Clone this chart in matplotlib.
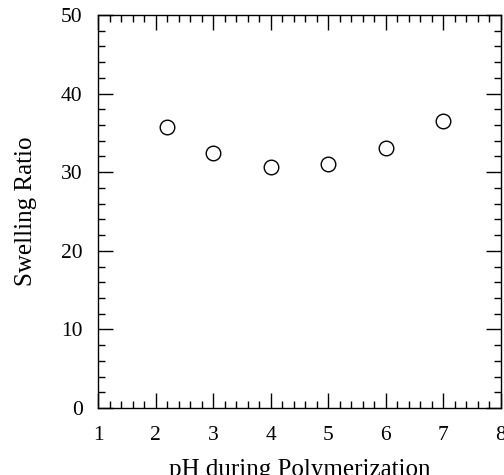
import matplotlib
matplotlib.use("Agg")
import matplotlib.pyplot as plt
from matplotlib.ticker import MultipleLocator

ph = [2.2, 3.0, 4.0, 5.0, 6.0, 7.0]
swelling = [35.7, 32.4, 30.6, 31.1, 33.1, 36.5]

plt.rcParams['font.family'] = ['Liberation Serif', 'DejaVu Serif']

fig = plt.figure(figsize=(5.04, 4.75), dpi=100)
ax = fig.add_axes([98/504, 1 - 408/475, (501-98)/504, (408-15)/475])

ax.plot(ph, swelling, linestyle='none', marker='o', markersize=10.5,
        markerfacecolor='white', markeredgecolor='black', markeredgewidth=1.0)

ax.set_xlim(1, 8)
ax.set_ylim(0, 50)
ax.xaxis.set_major_locator(MultipleLocator(1))
ax.xaxis.set_minor_locator(MultipleLocator(0.2))
ax.yaxis.set_major_locator(MultipleLocator(10))
ax.yaxis.set_minor_locator(MultipleLocator(2))
ax.tick_params(which='both', direction='in', top=True, right=True, width=1.0)
ax.tick_params(which='major', length=11, labelsize=15.5)
ax.tick_params(axis='x', which='major', pad=13)
ax.tick_params(axis='y', which='major', pad=11)
ax.tick_params(which='minor', length=5)
for s in ax.spines.values():
    s.set_linewidth(1.0)

ax.set_xlabel('pH during Polymerization', fontsize=18, labelpad=10)
ax.set_ylabel('Swelling Ratio', fontsize=18, labelpad=17)

fig.savefig('out.png', dpi=100)
